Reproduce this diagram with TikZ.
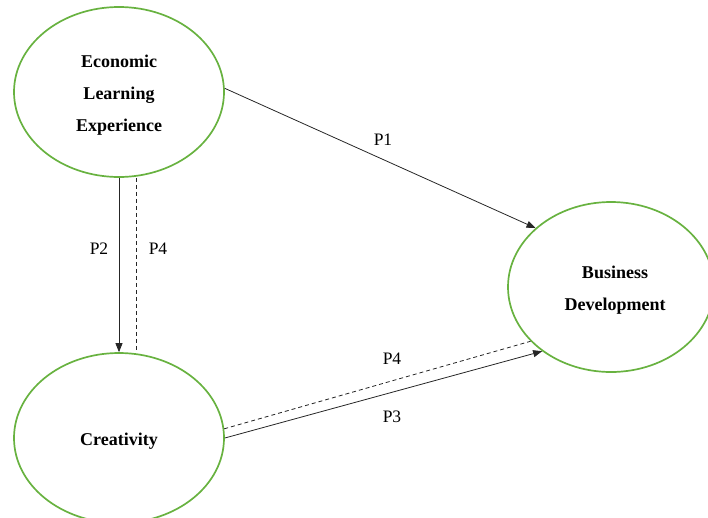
\documentclass[tikz,border=0pt]{standalone}
\usepackage{fontspec}
\setmainfont{Liberation Serif}
\usetikzlibrary{shapes.geometric,arrows.meta}
\definecolor{ellgreen}{RGB}{104,178,64}
\begin{document}
\begin{tikzpicture}[x=1pt,y=-1pt,
  construct/.style={ellipse,draw=ellgreen,line width=1.7pt,minimum width=210pt,minimum height=170pt,inner sep=0pt},
  ctext/.style={align=center,font=\bfseries\fontsize{18}{32}\selectfont},
  link/.style={draw=black!85,line width=0.8pt,-{Triangle[length=9pt,width=7pt]}},
  dashlink/.style={draw=black!85,line width=0.8pt,dashed,dash pattern=on 4pt off 3pt},
  plabel/.style={font=\fontsize{17.5}{20}\selectfont}]
\useasboundingbox (0,0) rectangle (708,517);
\clip (0,0) rectangle (708,517);
\node[construct] (ele) at (119,92) {};
\node[construct,minimum width=206pt] (bd) at (611,287) {};
\node[construct] (cre) at (119,438) {};
\node[ctext] (eletext) at (119,95) {Economic\\Learning\\Experience};
\node[ctext] (bdtext) at (615,290) {Business\\Development};
\node[ctext] (cretext) at (119,441) {Creativity};
\draw[link] (ele.2) -- (bd.142);
\draw[link] (ele.south) -- (cre.north);
\draw[dashlink] ([xshift=17pt]ele.south) -- ([xshift=17pt]cre.north);
\draw[link] (cre.east) -- (bd.223);
\draw[dashlink] (cre.5) -- (bd.214);
\node[plabel] (p1) at (383,140) {P1};
\node[plabel] (p2) at (99,249) {P2};
\node[plabel] (p4a) at (158,249) {P4};
\node[plabel] (p4b) at (392,359) {P4};
\node[plabel] (p3) at (392,417) {P3};
\end{tikzpicture}
\end{document}
